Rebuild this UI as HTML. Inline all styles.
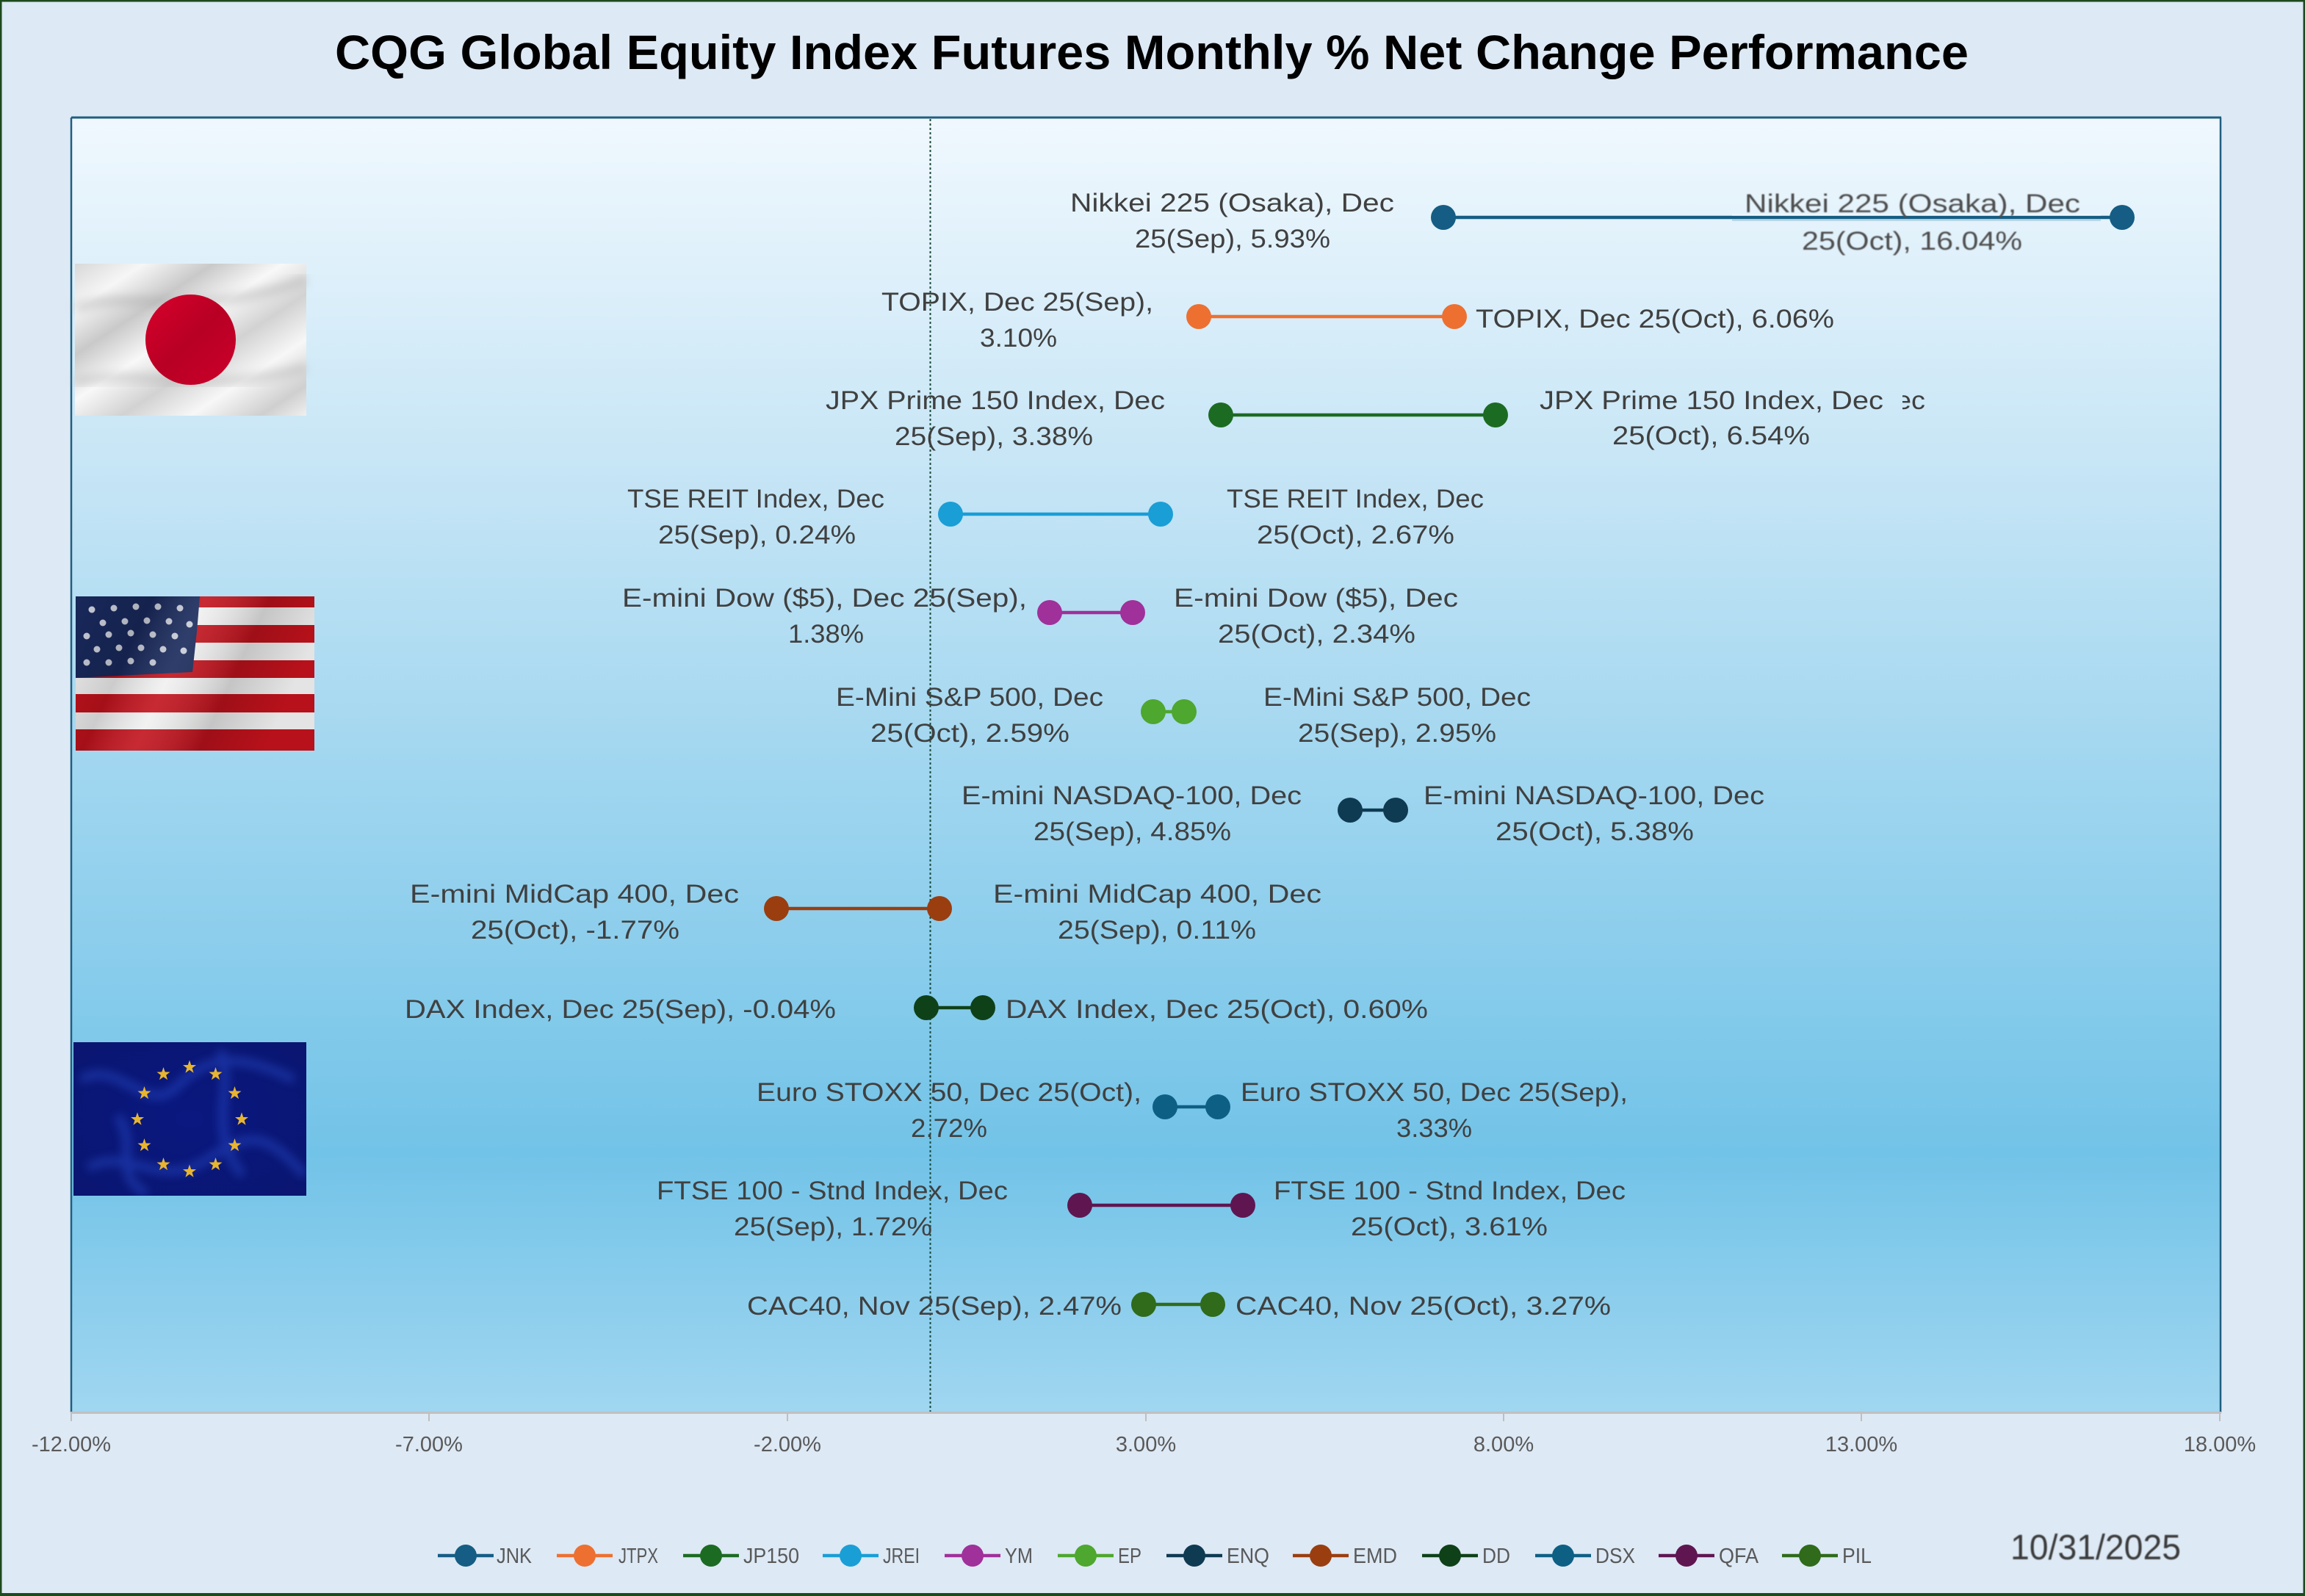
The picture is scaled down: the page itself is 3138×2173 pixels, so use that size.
<!DOCTYPE html>
<html>
<head>
<meta charset="utf-8">
<style>
html,body{margin:0;padding:0;background:#dde9f5;}
svg{display:block;}
text{font-family:"Liberation Sans",sans-serif;}
.lb{font-size:35px;fill:#404040;}
.tk{font-size:29px;fill:#595959;}
.lg{font-size:29px;fill:#595959;}
</style>
</head>
<body>
<svg width="3138" height="2173" viewBox="0 0 3138 2173" xmlns="http://www.w3.org/2000/svg">
<defs>
<linearGradient id="plotbg" x1="0" y1="0" x2="0" y2="1">
<stop offset="0" stop-color="#f0f8fe"/>
<stop offset="0.26" stop-color="#c8e6f6"/>
<stop offset="0.52" stop-color="#9ed5ef"/>
<stop offset="0.80" stop-color="#72c3e8"/>
<stop offset="1" stop-color="#a0d6f0"/>
</linearGradient>
<linearGradient id="jpbg" x1="0" y1="0" x2="1" y2="1">
<stop offset="0" stop-color="#d8d8d8"/>
<stop offset="0.15" stop-color="#f6f6f6"/>
<stop offset="0.3" stop-color="#c9c9c9"/>
<stop offset="0.45" stop-color="#f8f8f8"/>
<stop offset="0.6" stop-color="#d2d2d2"/>
<stop offset="0.75" stop-color="#f7f7f7"/>
<stop offset="0.9" stop-color="#cfcfcf"/>
<stop offset="1" stop-color="#f0f0f0"/>
</linearGradient>
<linearGradient id="jpred" x1="0" y1="0" x2="1" y2="1">
<stop offset="0" stop-color="#d8002c"/>
<stop offset="0.5" stop-color="#b80024"/>
<stop offset="1" stop-color="#cc002a"/>
</linearGradient>
<linearGradient id="usshade" x1="0" y1="0" x2="1" y2="0.3">
<stop offset="0" stop-color="#000" stop-opacity="0"/>
<stop offset="0.3" stop-color="#000" stop-opacity="0.15"/>
<stop offset="0.5" stop-color="#fff" stop-opacity="0.1"/>
<stop offset="0.75" stop-color="#000" stop-opacity="0.18"/>
<stop offset="1" stop-color="#000" stop-opacity="0.05"/>
</linearGradient>
<radialGradient id="eubg" cx="0.5" cy="0.5" r="0.7">
<stop offset="0" stop-color="#0a1880"/>
<stop offset="1" stop-color="#0a1670"/>
</radialGradient>
<filter id="bl" x="-5%" y="-5%" width="110%" height="110%"><feGaussianBlur stdDeviation="6"/></filter>
<filter id="soft"><feGaussianBlur stdDeviation="0.7"/></filter>
<clipPath id="ecclip"><rect x="2590" y="520" width="60" height="60"/></clipPath>
<clipPath id="euclip"><rect x="100" y="1419" width="317" height="209"/></clipPath>
<symbol id="star" viewBox="-10 -10 20 20"><polygon points="0,-9.5 2.2,-3 9,-2.9 3.6,1.2 5.6,7.8 0,3.8 -5.6,7.8 -3.6,1.2 -9,-2.9 -2.2,-3" /></symbol>
</defs>

<!-- outer background & border -->
<rect x="0" y="0" width="3138" height="2173" fill="#dde9f5"/>
<rect x="1" y="1" width="3136" height="2170" fill="none" stroke="#1c4a1c" stroke-width="3"/>
<rect x="0" y="2169" width="3138" height="4" fill="#1c4a1c"/>

<!-- title -->
<text x="456" y="94" font-size="66" font-weight="bold" fill="#000" textLength="2224" lengthAdjust="spacingAndGlyphs">CQG Global Equity Index Futures Monthly % Net Change Performance</text>

<!-- plot area -->
<rect x="97" y="161" width="2926" height="1762" fill="url(#plotbg)"/>
<line x1="97" y1="160" x2="3024" y2="160" stroke="#1f5f80" stroke-width="3"/>
<line x1="97" y1="160" x2="97" y2="1923" stroke="#1f5f80" stroke-width="2.5"/>
<line x1="3023" y1="160" x2="3023" y2="1923" stroke="#1f5f80" stroke-width="2.5"/>
<line x1="96" y1="1923.5" x2="3024" y2="1923.5" stroke="#c0c0c0" stroke-width="3"/>
<g stroke="#bfbfbf" stroke-width="2">
<line x1="97" y1="1924" x2="97" y2="1935"/>
<line x1="584" y1="1924" x2="584" y2="1935"/>
<line x1="1072" y1="1924" x2="1072" y2="1935"/>
<line x1="1560" y1="1924" x2="1560" y2="1935"/>
<line x1="2047" y1="1924" x2="2047" y2="1935"/>
<line x1="2534" y1="1924" x2="2534" y2="1935"/>
<line x1="3022" y1="1924" x2="3022" y2="1935"/>
</g>
<g class="tk" text-anchor="middle">
<text x="97" y="1976">-12.00%</text>
<text x="584" y="1976">-7.00%</text>
<text x="1072" y="1976">-2.00%</text>
<text x="1560" y="1976">3.00%</text>
<text x="2047" y="1976">8.00%</text>
<text x="2534" y="1976">13.00%</text>
<text x="3022" y="1976">18.00%</text>
</g>

<!-- zero line -->
<line x1="1266.5" y1="162" x2="1266.5" y2="1922" stroke="#1a4a3a" stroke-width="2" stroke-dasharray="3,3"/>

<!-- Japan flag -->
<rect x="102" y="359" width="315" height="207" fill="url(#jpbg)"/>
<g opacity="0.35" filter="url(#bl)">
<path d="M102,420 C180,390 260,440 417,380" stroke="#a0a0a0" stroke-width="14" fill="none"/>
<path d="M102,520 C200,500 280,540 417,500" stroke="#a8a8a8" stroke-width="14" fill="none"/>
</g>
<ellipse cx="259.5" cy="462.5" rx="61.5" ry="61.5" fill="url(#jpred)"/>

<!-- US flag -->
<g>
<rect x="103" y="812" width="325" height="210" fill="#f0f0f0"/>
<rect x="103" y="812" width="325" height="15" fill="#c1121c"/>
<rect x="103" y="851" width="325" height="24" fill="#c1121c"/>
<rect x="103" y="899" width="325" height="24" fill="#c1121c"/>
<rect x="103" y="945" width="325" height="25" fill="#c1121c"/>
<rect x="103" y="993" width="325" height="29" fill="#c1121c"/>
<path d="M103,812 L272,812 L268,860 L262,915 L103,923 Z" fill="#18285a"/>
<g fill="#c8ccd8">
<circle cx="125" cy="830" r="4.5"/><circle cx="155" cy="828" r="4.5"/><circle cx="185" cy="826" r="4.5"/><circle cx="215" cy="826" r="4.5"/><circle cx="245" cy="828" r="4.5"/>
<circle cx="140" cy="848" r="4.5"/><circle cx="170" cy="846" r="4.5"/><circle cx="200" cy="845" r="4.5"/><circle cx="230" cy="846" r="4.5"/><circle cx="258" cy="850" r="4.5"/>
<circle cx="118" cy="866" r="4.5"/><circle cx="148" cy="864" r="4.5"/><circle cx="178" cy="862" r="4.5"/><circle cx="208" cy="864" r="4.5"/><circle cx="238" cy="866" r="4.5"/>
<circle cx="132" cy="884" r="4.5"/><circle cx="162" cy="882" r="4.5"/><circle cx="192" cy="882" r="4.5"/><circle cx="222" cy="884" r="4.5"/><circle cx="250" cy="886" r="4.5"/>
<circle cx="118" cy="902" r="4.5"/><circle cx="148" cy="902" r="4.5"/><circle cx="178" cy="900" r="4.5"/><circle cx="208" cy="902" r="4.5"/>
</g>
<rect x="103" y="812" width="325" height="210" fill="url(#usshade)"/>
</g>

<!-- EU flag -->
<g clip-path="url(#euclip)">
<rect x="100" y="1419" width="317" height="209" fill="url(#eubg)"/>
<g opacity="0.45" filter="url(#bl)" fill="none" stroke="#2a50d0" stroke-width="12">
<path d="M110,1470 C160,1440 200,1520 240,1480 S320,1430 400,1470"/>
<path d="M120,1590 C170,1560 220,1620 280,1580 S360,1540 415,1600"/>
<path d="M300,1430 C320,1480 280,1540 330,1600"/>
<path d="M160,1520 C190,1560 150,1600 200,1625"/>
</g>
</g>
<g fill="#e8b530">
<use href="#star" x="248" y="1443" width="20" height="20"/>
<use href="#star" x="283.5" y="1452.5" width="20" height="20"/>
<use href="#star" x="309.5" y="1478.5" width="20" height="20"/>
<use href="#star" x="319" y="1514" width="20" height="20"/>
<use href="#star" x="309.5" y="1549.5" width="20" height="20"/>
<use href="#star" x="283.5" y="1575.5" width="20" height="20"/>
<use href="#star" x="248" y="1585" width="20" height="20"/>
<use href="#star" x="212.5" y="1575.5" width="20" height="20"/>
<use href="#star" x="186.5" y="1549.5" width="20" height="20"/>
<use href="#star" x="177" y="1514" width="20" height="20"/>
<use href="#star" x="186.5" y="1478.5" width="20" height="20"/>
<use href="#star" x="212.5" y="1452.5" width="20" height="20"/>
</g>

<!-- series lines -->
<g stroke-width="4.5">
<line x1="1965" y1="296" x2="2889" y2="296" stroke="#155d84"/>
<line x1="1632" y1="431" x2="1980" y2="431" stroke="#ed7031"/>
<line x1="1662" y1="565" x2="2036" y2="565" stroke="#1c6b23"/>
<line x1="1294" y1="700" x2="1580" y2="700" stroke="#1a9ed6"/>
<line x1="1429" y1="834" x2="1542" y2="834" stroke="#a0309a"/>
<line x1="1570" y1="969" x2="1612" y2="969" stroke="#4ea72e"/>
<line x1="1838" y1="1103" x2="1900" y2="1103" stroke="#0e3a52"/>
<line x1="1057" y1="1237" x2="1279" y2="1237" stroke="#9a3e10"/>
<line x1="1261" y1="1372" x2="1338" y2="1372" stroke="#0f4119"/>
<line x1="1586" y1="1507" x2="1658" y2="1507" stroke="#0e5f84"/>
<line x1="1470" y1="1641" x2="1692" y2="1641" stroke="#5f1650"/>
<line x1="1557" y1="1776" x2="1651" y2="1776" stroke="#2f6b1a"/>
</g>
<!-- band on nikkei label -->
<rect x="2358" y="291" width="502" height="3" fill="#ffffff" opacity="0.35"/>
<rect x="2358" y="298" width="502" height="3" fill="#9cc3d6" opacity="0.6"/>

<!-- markers -->
<g>
<circle cx="1965" cy="296" r="17" fill="#155d84"/><circle cx="2889" cy="296" r="17" fill="#155d84"/>
<circle cx="1632" cy="431" r="17" fill="#ed7031"/><circle cx="1980" cy="431" r="17" fill="#ed7031"/>
<circle cx="1662" cy="565" r="17" fill="#1c6b23"/><circle cx="2036" cy="565" r="17" fill="#1c6b23"/>
<circle cx="1294" cy="700" r="17" fill="#1a9ed6"/><circle cx="1580" cy="700" r="17" fill="#1a9ed6"/>
<circle cx="1429" cy="834" r="17" fill="#a0309a"/><circle cx="1542" cy="834" r="17" fill="#a0309a"/>
<circle cx="1570" cy="969" r="17" fill="#4ea72e"/><circle cx="1612" cy="969" r="17" fill="#4ea72e"/>
<circle cx="1838" cy="1103" r="17" fill="#0e3a52"/><circle cx="1900" cy="1103" r="17" fill="#0e3a52"/>
<circle cx="1057" cy="1237" r="17" fill="#9a3e10"/><circle cx="1279" cy="1237" r="17" fill="#9a3e10"/>
<circle cx="1261" cy="1372" r="17" fill="#0f4119"/><circle cx="1338" cy="1372" r="17" fill="#0f4119"/>
<circle cx="1586" cy="1507" r="17" fill="#0e5f84"/><circle cx="1658" cy="1507" r="17" fill="#0e5f84"/>
<circle cx="1470" cy="1641" r="17" fill="#5f1650"/><circle cx="1692" cy="1641" r="17" fill="#5f1650"/>
<circle cx="1557" cy="1776" r="17" fill="#2f6b1a"/><circle cx="1651" cy="1776" r="17" fill="#2f6b1a"/>
</g>

<!-- data labels -->
<g class="lb" lengthAdjust="spacingAndGlyphs">
<text x="1457" y="288" textLength="441" lengthAdjust="spacingAndGlyphs">Nikkei 225 (Osaka), Dec</text>
<text x="1545" y="337" textLength="266" lengthAdjust="spacingAndGlyphs">25(Sep), 5.93%</text>
<text x="2375" y="289" textLength="457" lengthAdjust="spacingAndGlyphs" fill="#4d4d4d" filter="url(#soft)">Nikkei 225 (Osaka), Dec</text>
<text x="2453" y="340" textLength="300" lengthAdjust="spacingAndGlyphs" fill="#4d4d4d" filter="url(#soft)">25(Oct), 16.04%</text>

<text x="1200" y="423" textLength="370" lengthAdjust="spacingAndGlyphs">TOPIX, Dec 25(Sep),</text>
<text x="1334" y="472" textLength="105" lengthAdjust="spacingAndGlyphs">3.10%</text>
<text x="2009" y="446" textLength="488" lengthAdjust="spacingAndGlyphs">TOPIX, Dec 25(Oct), 6.06%</text>

<text x="1124" y="557" textLength="462" lengthAdjust="spacingAndGlyphs">JPX Prime 150 Index, Dec</text>
<text x="1218" y="606" textLength="270" lengthAdjust="spacingAndGlyphs">25(Sep), 3.38%</text>
<text x="2096" y="557" textLength="468" lengthAdjust="spacingAndGlyphs">JPX Prime 150 Index, Dec</text>
<text x="2581" y="557" textLength="40" lengthAdjust="spacingAndGlyphs" clip-path="url(#ecclip)">ec</text>
<text x="2195" y="605" textLength="269" lengthAdjust="spacingAndGlyphs">25(Oct), 6.54%</text>

<text x="854" y="691" textLength="350" lengthAdjust="spacingAndGlyphs">TSE REIT Index, Dec</text>
<text x="896" y="740" textLength="269" lengthAdjust="spacingAndGlyphs">25(Sep), 0.24%</text>
<text x="1670" y="691" textLength="350" lengthAdjust="spacingAndGlyphs">TSE REIT Index, Dec</text>
<text x="1711" y="740" textLength="269" lengthAdjust="spacingAndGlyphs">25(Oct), 2.67%</text>

<text x="847" y="826" textLength="551" lengthAdjust="spacingAndGlyphs">E-mini Dow ($5), Dec 25(Sep),</text>
<text x="1073" y="875" textLength="103" lengthAdjust="spacingAndGlyphs">1.38%</text>
<text x="1598" y="826" textLength="387" lengthAdjust="spacingAndGlyphs">E-mini Dow ($5), Dec</text>
<text x="1658" y="875" textLength="269" lengthAdjust="spacingAndGlyphs">25(Oct), 2.34%</text>

<text x="1138" y="961" textLength="364" lengthAdjust="spacingAndGlyphs">E-Mini S&amp;P 500, Dec</text>
<text x="1185" y="1010" textLength="271" lengthAdjust="spacingAndGlyphs">25(Oct), 2.59%</text>
<text x="1720" y="961" textLength="364" lengthAdjust="spacingAndGlyphs">E-Mini S&amp;P 500, Dec</text>
<text x="1767" y="1010" textLength="270" lengthAdjust="spacingAndGlyphs">25(Sep), 2.95%</text>

<text x="1309" y="1095" textLength="463" lengthAdjust="spacingAndGlyphs">E-mini NASDAQ-100, Dec</text>
<text x="1407" y="1144" textLength="269" lengthAdjust="spacingAndGlyphs">25(Sep), 4.85%</text>
<text x="1938" y="1095" textLength="464" lengthAdjust="spacingAndGlyphs">E-mini NASDAQ-100, Dec</text>
<text x="2036" y="1144" textLength="270" lengthAdjust="spacingAndGlyphs">25(Oct), 5.38%</text>

<text x="558" y="1229" textLength="448" lengthAdjust="spacingAndGlyphs">E-mini MidCap 400, Dec</text>
<text x="641" y="1278" textLength="284" lengthAdjust="spacingAndGlyphs">25(Oct), -1.77%</text>
<text x="1352" y="1229" textLength="447" lengthAdjust="spacingAndGlyphs">E-mini MidCap 400, Dec</text>
<text x="1440" y="1278" textLength="270" lengthAdjust="spacingAndGlyphs">25(Sep), 0.11%</text>

<text x="551" y="1386" textLength="587" lengthAdjust="spacingAndGlyphs">DAX Index, Dec 25(Sep), -0.04%</text>
<text x="1369" y="1386" textLength="575" lengthAdjust="spacingAndGlyphs">DAX Index, Dec 25(Oct), 0.60%</text>

<text x="1030" y="1499" textLength="524" lengthAdjust="spacingAndGlyphs">Euro STOXX 50, Dec 25(Oct),</text>
<text x="1240" y="1548" textLength="104" lengthAdjust="spacingAndGlyphs">2.72%</text>
<text x="1689" y="1499" textLength="527" lengthAdjust="spacingAndGlyphs">Euro STOXX 50, Dec 25(Sep),</text>
<text x="1901" y="1548" textLength="103" lengthAdjust="spacingAndGlyphs">3.33%</text>

<text x="894" y="1633" textLength="478" lengthAdjust="spacingAndGlyphs">FTSE 100 - Stnd Index, Dec</text>
<text x="999" y="1682" textLength="270" lengthAdjust="spacingAndGlyphs">25(Sep), 1.72%</text>
<text x="1734" y="1633" textLength="479" lengthAdjust="spacingAndGlyphs">FTSE 100 - Stnd Index, Dec</text>
<text x="1839" y="1682" textLength="268" lengthAdjust="spacingAndGlyphs">25(Oct), 3.61%</text>

<text x="1017" y="1790" textLength="510" lengthAdjust="spacingAndGlyphs">CAC40, Nov 25(Sep), 2.47%</text>
<text x="1682" y="1790" textLength="511" lengthAdjust="spacingAndGlyphs">CAC40, Nov 25(Oct), 3.27%</text>
</g>

<!-- legend -->
<g stroke-width="4.5">
<line x1="596" y1="2118" x2="672" y2="2118" stroke="#155d84"/><circle cx="634" cy="2118" r="15" fill="#155d84"/>
<line x1="758" y1="2118" x2="834" y2="2118" stroke="#ed7031"/><circle cx="796" cy="2118" r="15" fill="#ed7031"/>
<line x1="930" y1="2118" x2="1006" y2="2118" stroke="#1c6b23"/><circle cx="968" cy="2118" r="15" fill="#1c6b23"/>
<line x1="1120" y1="2118" x2="1196" y2="2118" stroke="#1a9ed6"/><circle cx="1158" cy="2118" r="15" fill="#1a9ed6"/>
<line x1="1286" y1="2118" x2="1362" y2="2118" stroke="#a0309a"/><circle cx="1324" cy="2118" r="15" fill="#a0309a"/>
<line x1="1440" y1="2118" x2="1516" y2="2118" stroke="#4ea72e"/><circle cx="1478" cy="2118" r="15" fill="#4ea72e"/>
<line x1="1588" y1="2118" x2="1664" y2="2118" stroke="#0e3a52"/><circle cx="1626" cy="2118" r="15" fill="#0e3a52"/>
<line x1="1760" y1="2118" x2="1836" y2="2118" stroke="#9a3e10"/><circle cx="1798" cy="2118" r="15" fill="#9a3e10"/>
<line x1="1936" y1="2118" x2="2012" y2="2118" stroke="#0f4119"/><circle cx="1974" cy="2118" r="15" fill="#0f4119"/>
<line x1="2090" y1="2118" x2="2166" y2="2118" stroke="#0e5f84"/><circle cx="2128" cy="2118" r="15" fill="#0e5f84"/>
<line x1="2258" y1="2118" x2="2334" y2="2118" stroke="#5f1650"/><circle cx="2296" cy="2118" r="15" fill="#5f1650"/>
<line x1="2426" y1="2118" x2="2502" y2="2118" stroke="#2f6b1a"/><circle cx="2464" cy="2118" r="15" fill="#2f6b1a"/>
</g>
<g class="lg">
<text x="676" y="2128" textLength="48" lengthAdjust="spacingAndGlyphs">JNK</text>
<text x="842" y="2128" textLength="54" lengthAdjust="spacingAndGlyphs">JTPX</text>
<text x="1012" y="2128" textLength="76" lengthAdjust="spacingAndGlyphs">JP150</text>
<text x="1202" y="2128" textLength="50" lengthAdjust="spacingAndGlyphs">JREI</text>
<text x="1368" y="2128" textLength="38" lengthAdjust="spacingAndGlyphs">YM</text>
<text x="1522" y="2128" textLength="32" lengthAdjust="spacingAndGlyphs">EP</text>
<text x="1670" y="2128" textLength="58" lengthAdjust="spacingAndGlyphs">ENQ</text>
<text x="1842" y="2128" textLength="60" lengthAdjust="spacingAndGlyphs">EMD</text>
<text x="2018" y="2128" textLength="38" lengthAdjust="spacingAndGlyphs">DD</text>
<text x="2172" y="2128" textLength="54" lengthAdjust="spacingAndGlyphs">DSX</text>
<text x="2340" y="2128" textLength="54" lengthAdjust="spacingAndGlyphs">QFA</text>
<text x="2508" y="2128" textLength="40" lengthAdjust="spacingAndGlyphs">PIL</text>
</g>

<!-- date -->
<text x="2737" y="2123" font-size="48" fill="#3a3a3a" textLength="232" lengthAdjust="spacingAndGlyphs" filter="url(#soft)">10/31/2025</text>
</svg>
</body>
</html>
